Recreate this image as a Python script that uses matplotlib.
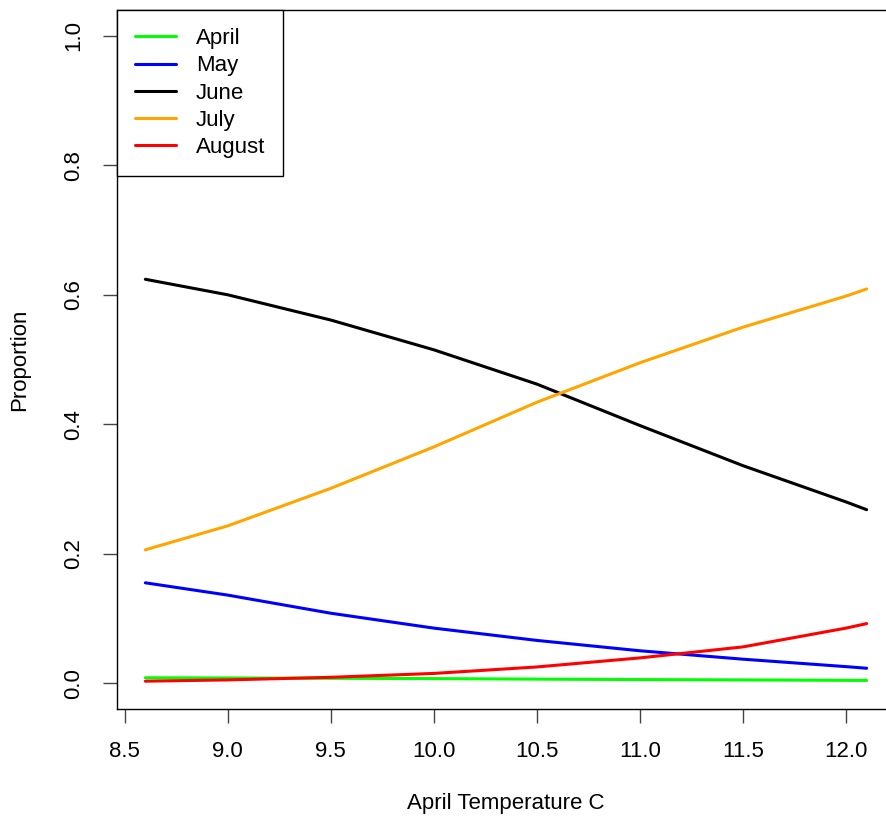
import matplotlib
matplotlib.use("Agg")
import matplotlib.pyplot as plt

plt.rcParams['font.family'] = ['Liberation Sans', 'DejaVu Sans']

# April temperature (C) and predicted proportions per month
temp = [8.6, 9.0, 9.5, 10.0, 10.5, 11.0, 11.5, 12.0, 12.1]
april = [0.0083, 0.0080, 0.0075, 0.0070, 0.0062, 0.0055, 0.0050, 0.0043, 0.0042]
may = [0.155, 0.136, 0.108, 0.085, 0.066, 0.050, 0.037, 0.0255, 0.023]
june = [0.624, 0.600, 0.561, 0.515, 0.462, 0.398, 0.336, 0.280, 0.268]
july = [0.206, 0.243, 0.301, 0.365, 0.434, 0.495, 0.550, 0.598, 0.609]
august = [0.003, 0.005, 0.009, 0.015, 0.025, 0.039, 0.056, 0.085, 0.092]

months = ["April", "May", "June", "July", "August"]
series = [april, may, june, july, august]
colors = ["#00ff00", "#0000ff", "#000000", "#ffa500", "#ff0000"]

xticks = [8.5, 9.0, 9.5, 10.0, 10.5, 11.0, 11.5, 12.0]
yticks = [0.0, 0.2, 0.4, 0.6, 0.8, 1.0]

fig = plt.figure(figsize=(8.86, 8.16), dpi=100)
ax = fig.add_axes([0.1315, 0.1311, 0.8792, 0.8566])

for name, vals, col in zip(months, series, colors):
    ax.plot(temp, vals, color=col, lw=2.2, label=name, solid_capstyle='round')

ax.set_xlim(8.46, 12.24)
ax.set_ylim(-0.04, 1.04)
ax.set_xticks(xticks)
ax.set_xticklabels([f"{t:.1f}" for t in xticks])
ax.set_yticks(yticks)
ax.set_yticklabels([f"{t:.1f}" for t in yticks], rotation=90, va='center')
ax.tick_params(axis='both', length=10, width=1, color='#444444', labelsize=16, pad=13)
for s in ax.spines.values():
    s.set_linewidth(1)

ax.set_xlabel("April Temperature C", fontsize=16)
ax.set_ylabel("Proportion", fontsize=16)
ax.xaxis.set_label_coords(0.5, -0.1345)
ax.yaxis.set_label_coords(-0.1239, 0.5)
ax.xaxis.label.set_va('center')
ax.yaxis.label.set_va('center')

leg = ax.legend(loc='upper left', bbox_to_anchor=(0, 1), borderaxespad=0,
                fontsize=16, frameon=True, fancybox=False, framealpha=1,
                edgecolor='black', handlelength=1.85, handletextpad=0.9,
                labelspacing=0.28, borderpad=0.82)
leg.get_frame().set_linewidth(1)

fig.savefig("out.png", dpi=100)
